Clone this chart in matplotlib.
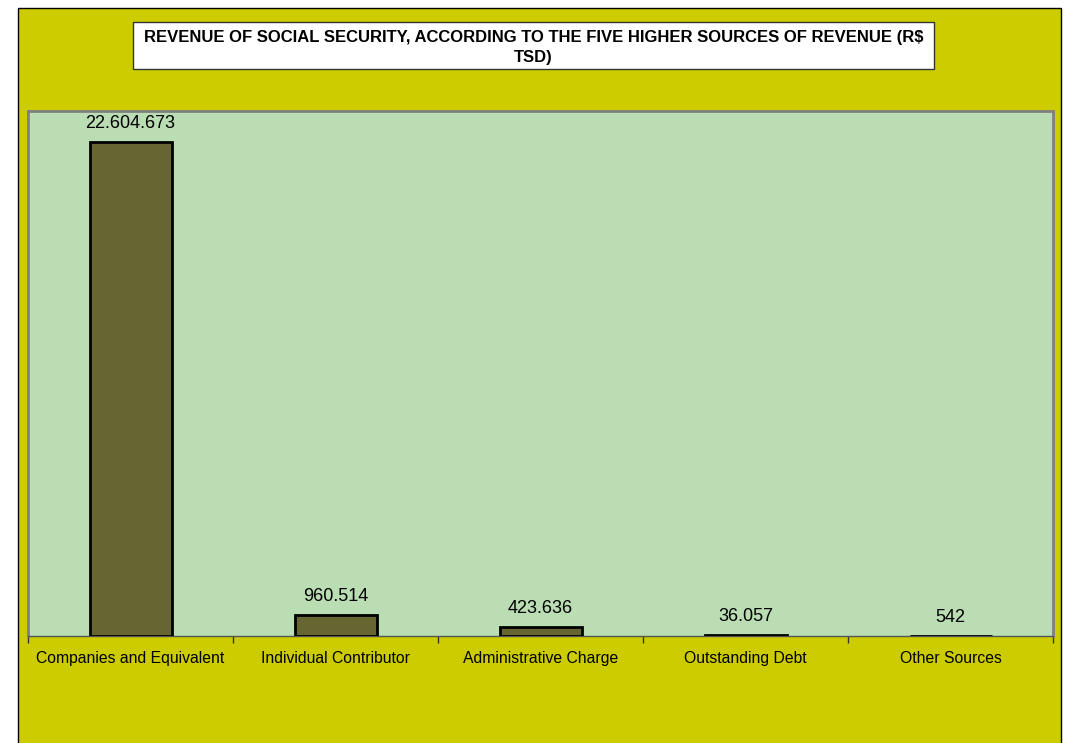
import matplotlib
matplotlib.use("Agg")
import matplotlib.pyplot as plt
from matplotlib.patches import Rectangle

categories = ["Companies and Equivalent", "Individual Contributor", "Administrative Charge",
              "Outstanding Debt", "Other Sources"]
values = [22604673, 960514, 423636, 36057, 542]
value_labels = ["22.604.673", "960.514", "423.636", "36.057", "542"]
title = "REVENUE OF SOCIAL SECURITY, ACCORDING TO THE FIVE HIGHER SOURCES OF REVENUE (R$\nTSD)"

W, H = 1067, 743
DPI = 100
plt.rcParams['font.family'] = ['Liberation Sans', 'DejaVu Sans']

fig = plt.figure(figsize=(W / DPI, H / DPI), dpi=DPI)
fig.patch.set_facecolor("white")

def fx(px):
    return px / W

def fy(py):
    return 1 - py / H

# outer chart area
fig.patches.append(Rectangle((fx(18), fy(760)), fx(1061) - fx(18), fy(8) - fy(760),
                             transform=fig.transFigure, facecolor="#CCCC00",
                             edgecolor="black", linewidth=1.0, zorder=-10))

# title box
fig.patches.append(Rectangle((fx(133), fy(69)), fx(934) - fx(133), fy(22) - fy(69),
                             transform=fig.transFigure, facecolor="white",
                             edgecolor="#333333", linewidth=1.0, zorder=1))
fig.text(fx(533.5), fy(47.5), title, ha="center", va="center", fontsize=12,
         fontweight="bold", linespacing=1.35, color="black", zorder=2)

ax = fig.add_axes([fx(28), fy(636), fx(1053) - fx(28), fy(111) - fy(636)])
ax.set_zorder(5)
ax.set_facecolor("#BBDDB3")
x = list(range(len(categories)))
ax.bar(x, values, width=0.4, color="#666633", edgecolor="black", linewidth=2, zorder=3)
ax.set_xlim(-0.5, len(categories) - 0.5)
ax.set_ylim(0, 24000000)

for xi, v, lab in zip(x, values, value_labels):
    ax.annotate(lab, (xi, v), xytext=(0, 10), textcoords="offset points",
                ha="center", va="baseline", fontsize=13, color="black")

ax.set_yticks([])
ax.set_xticks([i - 0.5 for i in range(len(categories) + 1)])
ax.set_xticklabels([])
ax.set_xticks(x, minor=True)
ax.set_xticklabels(categories, minor=True, fontsize=11.3)
ax.tick_params(axis="x", which="minor", length=0, pad=11)
ax.tick_params(axis="x", which="major", length=5, width=1, color="#333333", direction="out")

for s in ["left", "top", "right"]:
    ax.spines[s].set_color("#808080")
    ax.spines[s].set_linewidth(2)
ax.spines["bottom"].set_color("#555555")
ax.spines["bottom"].set_linewidth(1)

fig.savefig("out.png", dpi=DPI, facecolor=fig.get_facecolor())
